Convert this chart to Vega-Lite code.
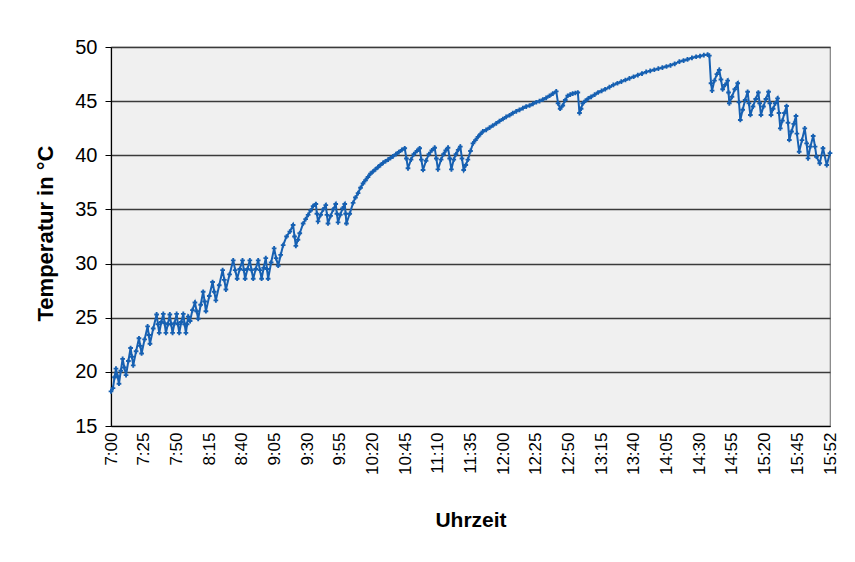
{
 "$schema": "https://vega.github.io/schema/vega-lite/v6.json",
 "width": 719, "height": 379,
 "autosize": "none",
 "padding": {"left": 111, "top": 47, "right": 25, "bottom": 136},
 "background": "white",
 "config": {"view": {"fill": "#f0f0f0", "stroke": "#808080", "strokeWidth": 1.2}, "font": "Liberation Sans"},
 "data": {"values": [
  {"min":0,"temp":18.2},{"min":1.5,"temp":18.5},{"min":2.7,"temp":19.5},{"min":3.8,"temp":20.3},{"min":5,"temp":19.6},{"min":6.1,"temp":18.9},{"min":7.5,"temp":20.1},{"min":8.9,"temp":21.2},{"min":10.2,"temp":20.4},{"min":11.5,"temp":19.7},{"min":13.3,"temp":21.0},{"min":15,"temp":22.2},{"min":16,"temp":21.4},{"min":17,"temp":20.6},{"min":19.2,"temp":21.9},{"min":21.4,"temp":23.1},{"min":22.4,"temp":22.4},{"min":23.4,"temp":21.7},{"min":25.7,"temp":23.0},{"min":28,"temp":24.2},{"min":28.9,"temp":23.4},{"min":29.8,"temp":22.6},{"min":32.3,"temp":24.0},{"min":34.9,"temp":25.3},{"min":35.9,"temp":24.4},{"min":36.9,"temp":23.6},{"min":38.5,"temp":24.6},{"min":40,"temp":25.35},{"min":41,"temp":24.5},{"min":42,"temp":23.6},{"min":43.5,"temp":24.4},{"min":45,"temp":25.3},{"min":46,"temp":24.4},{"min":47.1,"temp":23.6},{"min":48.6,"temp":24.5},{"min":50.2,"temp":25.35},{"min":51.2,"temp":24.4},{"min":52.2,"temp":23.6},{"min":53.8,"temp":24.6},{"min":55.3,"temp":25.35},{"min":56.3,"temp":24.4},{"min":57.3,"temp":23.6},{"min":58.2,"temp":24.4},{"min":59.1,"temp":25.1},{"min":60.5,"temp":24.7},{"min":62.3,"temp":25.7},{"min":64.2,"temp":26.4},{"min":65.5,"temp":25.6},{"min":66.7,"temp":24.9},{"min":68.6,"temp":26.2},{"min":70.5,"temp":27.4},{"min":71.6,"temp":26.5},{"min":72.6,"temp":25.6},{"min":75.2,"temp":27.0},{"min":77.7,"temp":28.3},{"min":79,"temp":27.4},{"min":80.2,"temp":26.6},{"min":82.8,"temp":28.0},{"min":85.4,"temp":29.4},{"min":86.7,"temp":28.5},{"min":87.9,"temp":27.6},{"min":90.7,"temp":29.0},{"min":93.5,"temp":30.3},{"min":95,"temp":29.4},{"min":96.5,"temp":28.6},{"min":98.5,"temp":29.5},{"min":100.6,"temp":30.3},{"min":101.6,"temp":29.4},{"min":102.6,"temp":28.6},{"min":104.4,"temp":29.5},{"min":106.2,"temp":30.3},{"min":107.5,"temp":29.4},{"min":108.8,"temp":28.6},{"min":110.7,"temp":29.5},{"min":112.6,"temp":30.3},{"min":113.9,"temp":29.4},{"min":115.2,"temp":28.6},{"min":116.8,"temp":29.6},{"min":118.4,"temp":30.5},{"min":119.3,"temp":29.5},{"min":120.2,"temp":28.6},{"min":122.5,"temp":30.1},{"min":124.8,"temp":31.4},{"min":126.3,"temp":30.5},{"min":127.9,"temp":29.8},{"min":129.8,"temp":30.8},{"min":131.7,"temp":31.7},{"min":134.3,"temp":32.5},{"min":136.8,"temp":32.95},{"min":139.3,"temp":33.56},{"min":140.4,"temp":32.5},{"min":141.4,"temp":31.63},{"min":143,"temp":32.2},{"min":144.4,"temp":32.8},{"min":147,"temp":33.7},{"min":148.9,"temp":34.1},{"min":150.8,"temp":34.5},{"min":152.7,"temp":34.9},{"min":154.6,"temp":35.3},{"min":156.7,"temp":35.5},{"min":157.5,"temp":34.6},{"min":158.4,"temp":33.9},{"min":160.4,"temp":34.5},{"min":162.3,"temp":35.0},{"min":164.3,"temp":35.4},{"min":165.2,"temp":34.5},{"min":166,"temp":33.7},{"min":168,"temp":34.4},{"min":170,"temp":35.0},{"min":171.9,"temp":35.5},{"min":172.8,"temp":34.6},{"min":173.7,"temp":33.8},{"min":175.4,"temp":34.5},{"min":177.1,"temp":35.1},{"min":178.8,"temp":35.5},{"min":179.5,"temp":34.6},{"min":180.1,"temp":33.7},{"min":182.6,"temp":34.6},{"min":185.2,"temp":35.6},{"min":187,"temp":36.1},{"min":189,"temp":36.5},{"min":190.9,"temp":37.0},{"min":192.8,"temp":37.4},{"min":194.7,"temp":37.7},{"min":196.6,"temp":38.0},{"min":198.5,"temp":38.3},{"min":200.4,"temp":38.5},{"min":202.3,"temp":38.7},{"min":204.2,"temp":38.9},{"min":206.1,"temp":39.1},{"min":208.1,"temp":39.3},{"min":210,"temp":39.45},{"min":212,"temp":39.6},{"min":213.8,"temp":39.75},{"min":215.7,"temp":39.9},{"min":218,"temp":40.1},{"min":220.2,"temp":40.3},{"min":222.5,"temp":40.5},{"min":224.7,"temp":40.65},{"min":226,"temp":39.7},{"min":227.2,"temp":38.8},{"min":229.5,"temp":39.6},{"min":231.7,"temp":40.1},{"min":234,"temp":40.4},{"min":236.1,"temp":40.65},{"min":237.4,"temp":39.6},{"min":238.7,"temp":38.64},{"min":241,"temp":39.5},{"min":243.2,"temp":40.1},{"min":245.4,"temp":40.45},{"min":247.6,"temp":40.7},{"min":248.9,"temp":39.7},{"min":250.1,"temp":38.7},{"min":252.5,"temp":39.6},{"min":254.4,"temp":40.1},{"min":256.1,"temp":40.45},{"min":257.8,"temp":40.7},{"min":259.1,"temp":39.7},{"min":260.4,"temp":38.7},{"min":262.2,"temp":39.6},{"min":263.9,"temp":40.1},{"min":265.6,"temp":40.5},{"min":267.2,"temp":40.8},{"min":268.5,"temp":39.7},{"min":269.8,"temp":38.64},{"min":271.4,"temp":39.1},{"min":273,"temp":39.6},{"min":275,"temp":40.4},{"min":276.9,"temp":41.1},{"min":278.8,"temp":41.4},{"min":280.7,"temp":41.7},{"min":282.6,"temp":41.95},{"min":284.5,"temp":42.2},{"min":287,"temp":42.35},{"min":289.6,"temp":42.55},{"min":292.1,"temp":42.75},{"min":294.7,"temp":42.95},{"min":297.2,"temp":43.15},{"min":299.8,"temp":43.35},{"min":302.3,"temp":43.55},{"min":304.9,"temp":43.7},{"min":307.4,"temp":43.9},{"min":310,"temp":44.05},{"min":312.5,"temp":44.2},{"min":315.1,"temp":44.35},{"min":317.6,"temp":44.5},{"min":320.2,"temp":44.6},{"min":322.7,"temp":44.75},{"min":325.3,"temp":44.9},{"min":327.8,"temp":45.0},{"min":330.4,"temp":45.15},{"min":332.9,"temp":45.3},{"min":335.5,"temp":45.5},{"min":338,"temp":45.7},{"min":340.6,"temp":45.9},{"min":342,"temp":44.8},{"min":343.6,"temp":44.3},{"min":345.6,"temp":44.6},{"min":347.5,"temp":45.1},{"min":349.4,"temp":45.5},{"min":351.3,"temp":45.6},{"min":353.2,"temp":45.7},{"min":355.2,"temp":45.75},{"min":357.1,"temp":45.8},{"min":358.4,"temp":43.9},{"min":359.6,"temp":44.3},{"min":360.9,"temp":44.8},{"min":363,"temp":45.05},{"min":365.2,"temp":45.25},{"min":367.3,"temp":45.4},{"min":370,"temp":45.6},{"min":372.6,"temp":45.8},{"min":375.3,"temp":45.95},{"min":378,"temp":46.1},{"min":381.3,"temp":46.3},{"min":384.3,"temp":46.5},{"min":387.4,"temp":46.65},{"min":390.4,"temp":46.8},{"min":393.5,"temp":46.95},{"min":396.6,"temp":47.1},{"min":399.8,"temp":47.25},{"min":403,"temp":47.4},{"min":406.2,"temp":47.55},{"min":409.4,"temp":47.7},{"min":412.5,"temp":47.8},{"min":415.6,"temp":47.9},{"min":418.7,"temp":48.0},{"min":421.8,"temp":48.1},{"min":424.9,"temp":48.2},{"min":428,"temp":48.3},{"min":431.2,"temp":48.45},{"min":434.8,"temp":48.65},{"min":438,"temp":48.75},{"min":441,"temp":48.85},{"min":444.4,"temp":49.0},{"min":447.6,"temp":49.1},{"min":450.6,"temp":49.15},{"min":453.5,"temp":49.25},{"min":456.4,"temp":49.3},{"min":457.7,"temp":49.2},{"min":459,"temp":46.65},{"min":459.8,"temp":45.97},{"min":461.6,"temp":46.9},{"min":463.5,"temp":47.5},{"min":465.3,"temp":47.88},{"min":466.6,"temp":47.0},{"min":467.9,"temp":46.1},{"min":469.8,"temp":46.5},{"min":471.7,"temp":46.9},{"min":472.4,"temp":45.8},{"min":473,"temp":44.8},{"min":475,"temp":45.4},{"min":477.2,"temp":46.1},{"min":479.4,"temp":46.65},{"min":480.4,"temp":44.9},{"min":481.4,"temp":43.26},{"min":483.2,"temp":44.2},{"min":485.1,"temp":45.1},{"min":487,"temp":45.87},{"min":488,"temp":44.8},{"min":489.1,"temp":43.72},{"min":491.1,"temp":44.5},{"min":493.2,"temp":45.2},{"min":495.2,"temp":45.8},{"min":496.2,"temp":44.8},{"min":497.2,"temp":43.72},{"min":499.1,"temp":44.5},{"min":501,"temp":45.2},{"min":503,"temp":45.87},{"min":504,"temp":44.8},{"min":504.9,"temp":43.72},{"min":506.5,"temp":44.3},{"min":508.2,"temp":44.8},{"min":509.9,"temp":45.26},{"min":511,"temp":43.9},{"min":512,"temp":42.49},{"min":513.6,"temp":43.2},{"min":515.2,"temp":43.9},{"min":516.8,"temp":44.55},{"min":517.9,"temp":43.0},{"min":518.9,"temp":41.41},{"min":520.6,"temp":42.2},{"min":522.3,"temp":42.9},{"min":524,"temp":43.63},{"min":524.7,"temp":42.0},{"min":525.4,"temp":40.33},{"min":526,"temp":41.4},{"min":526.6,"temp":42.49},{"min":527,"temp":41.1},{"min":527.3,"temp":39.72},{"min":527.8,"temp":40.8},{"min":528.4,"temp":41.78},{"min":528.8,"temp":40.8},{"min":529.1,"temp":39.87},{"min":529.8,"temp":39.26},{"min":530.5,"temp":40.65},{"min":531.3,"temp":39.1},{"min":532,"temp":40.2}
 ]},
 "encoding": {
  "x": {"field": "min", "type": "quantitative",
   "scale": {"domain": [0, 525, 532], "range": [0, 686.3, 719], "nice": false, "zero": false},
   "axis": {"values": [0,25,50,75,100,125,150,175,200,225,250,275,300,325,350,375,400,425,450,475,500,525,532],
    "labelExpr": "(7 + floor(datum.value / 60)) + ':' + (datum.value % 60 < 10 ? '0' : '') + (datum.value % 60)",
    "labelAngle": -90, "labelAlign": "right", "labelBaseline": "middle", "labelPadding": 6,
    "labelFontSize": 17, "labelColor": "black", "labelOverlap": false, "labelFlush": false, "labelBound": false,
    "ticks": false, "grid": false, "domainColor": "black", "domainWidth": 1.2,
    "title": "Uhrzeit", "titleFontSize": 21, "titleFontWeight": "bold", "titleColor": "black",
    "titleX": 359.5, "titleY": 94, "titleBaseline": "middle", "titleAlign": "center"}},
  "y": {"field": "temp", "type": "quantitative",
   "scale": {"domain": [15, 50], "nice": false, "zero": false},
   "axis": {"values": [15,20,25,30,35,40,45,50], "grid": true, "gridColor": "#3a3a3a", "gridWidth": 1.3,
    "tickSize": 6, "tickColor": "black", "domainColor": "black", "domainWidth": 1.2,
    "labelFontSize": 20, "labelColor": "black", "labelPadding": 8,
    "title": "Temperatur in °C", "titleFontSize": 22, "titleFontWeight": "bold", "titleColor": "black",
    "titleX": -66, "titleY": 186, "titleBaseline": "middle", "titleAlign": "center", "titleAngle": -90}}
 },
 "layer": [
  {"mark": {"type": "line", "color": "#1660b2", "strokeWidth": 2}},
  {"mark": {"type": "point", "shape": "cross", "filled": true, "size": 22, "color": "#1660b2", "opacity": 1}}
 ]
}
